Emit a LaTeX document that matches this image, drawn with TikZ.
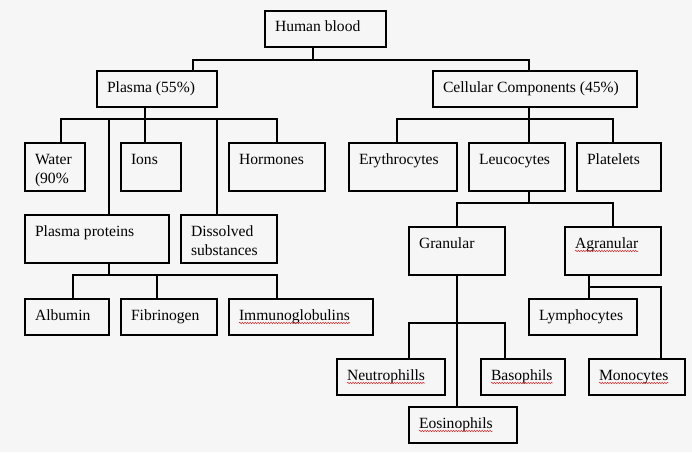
\documentclass[tikz,border=0pt]{standalone}
\usepackage{fontspec}
\setmainfont{Liberation Serif}
\usetikzlibrary{calc,decorations.pathmorphing}
\definecolor{bgc}{RGB}{247,246,246}
\definecolor{squig}{RGB}{200,40,40}
\tikzset{
  box/.style={draw, line width=1.1pt, anchor=north west, inner sep=0pt, outer sep=0pt},
  txt/.style={anchor=base west, inner sep=0pt, outer sep=0pt, font=\fontsize{15.6}{19}\selectfont},
  conn/.style={line width=1.1pt},
  spell/.style={squig, line width=0.5pt, decorate, decoration={snake, amplitude=0.7pt, segment length=2.6pt}}
}
\newcommand\bx[6]{%
  \node[box, minimum width={(#4-#2)*1pt}, minimum height={(#5-#3)*1pt}] (#1) at (#2,#3) {};
  \node[txt] (#1t) at ($(#1.north west)+(10,21)$) {\begin{tabular}[t]{@{}l@{}}#6\end{tabular}};
}
\begin{document}
\begin{tikzpicture}[x=1pt,y=-1pt]
\fill[bgc] (0,0) rectangle (692,452);
\useasboundingbox (0,0) rectangle (692,452);

\bx{hb}{265}{11}{386}{47}{Human blood}
\bx{plasma}{97}{71}{217}{107}{Plasma (55\%)}
\bx{cell}{433}{71}{637}{107}{Cellular Components (45\%)}
\bx{water}{25}{143}{85}{191}{Water\\(90\%}
\bx{ions}{121}{143}{181}{191}{Ions}
\bx{horm}{229}{143}{325}{191}{Hormones}
\bx{ery}{349}{143}{457}{191}{Erythrocytes}
\bx{leuc}{469}{143}{565}{191}{Leucocytes}
\bx{plat}{577}{143}{661}{191}{Platelets}
\bx{pp}{25}{215}{169}{263}{Plasma proteins}
\bx{diss}{181}{215}{277}{263}{Dissolved\\substances}
\bx{gran}{409}{227}{505}{275}{Granular}
\bx{agran}{565}{227}{661}{275}{Agranular}
\bx{alb}{25}{299}{109}{335}{Albumin}
\bx{fib}{121}{299}{217}{335}{Fibrinogen}
\bx{imm}{229}{299}{373}{335}{Immunoglobulins}
\bx{lymph}{529}{299}{637}{335}{Lymphocytes}
\bx{neut}{337}{359}{445}{395}{Neutrophills}
\bx{baso}{481}{359}{565}{395}{Basophils}
\bx{mono}{589}{359}{685}{395}{Monocytes}
\bx{eos}{409}{407}{517}{443}{Eosinophils}

% junctions
\coordinate (j1) at (313,60);
\coordinate (j2) at (145,119);
\coordinate (j3) at (529,119);
\coordinate (j4) at (529,203);
\coordinate (j5) at (109,275);
\coordinate (j6) at (457,323);
\coordinate (j7) at (589,287);

% Human blood
\draw[conn] (313,0 |- hb.south) -- (j1);
\draw[conn] (j1) -| (193,0 |- plasma.north);
\draw[conn] (j1) -| (529,0 |- cell.north);
% Plasma
\draw[conn] (145,0 |- plasma.south) -- (j2);
\draw[conn] (j2) -| (61,0 |- water.north);
\draw[conn] (j2) -- (145,0 |- ions.north);
\draw[conn] (j2) -| (277,0 |- horm.north);
\draw[conn] (j2) -| (109,0 |- pp.north);
\draw[conn] (j2) -| (217,0 |- diss.north);
% Cellular
\draw[conn] (529,0 |- cell.south) -- (j3);
\draw[conn] (j3) -| (397,0 |- ery.north);
\draw[conn] (j3) -- (529,0 |- leuc.north);
\draw[conn] (j3) -| (613,0 |- plat.north);
% Leucocytes
\draw[conn] (529,0 |- leuc.south) -- (j4);
\draw[conn] (j4) -| (457,0 |- gran.north);
\draw[conn] (j4) -| (613,0 |- agran.north);
% Plasma proteins
\draw[conn] (109,0 |- pp.south) -- (j5);
\draw[conn] (j5) -| (73,0 |- alb.north);
\draw[conn] (j5) -| (157,0 |- fib.north);
\draw[conn] (j5) -| (277,0 |- imm.north);
% Granular
\draw[conn] (457,0 |- gran.south) -- (457,0 |- eos.north);
\draw[conn] (j6) -| (409,0 |- neut.north);
\draw[conn] (j6) -| (505,0 |- baso.north);
% Agranular
\draw[conn] (589,0 |- agran.south) -- (589,0 |- lymph.north);
\draw[conn] (j7) -| (661,0 |- mono.north);

% spell-check marks
\foreach \n in {immt,agrant,neutt,basot,monot,eost}{
  \draw[spell] ($(\n.base west)+(0,3)$) -- ($(\n.base east)+(0,3)$);
}
\end{tikzpicture}
\end{document}
